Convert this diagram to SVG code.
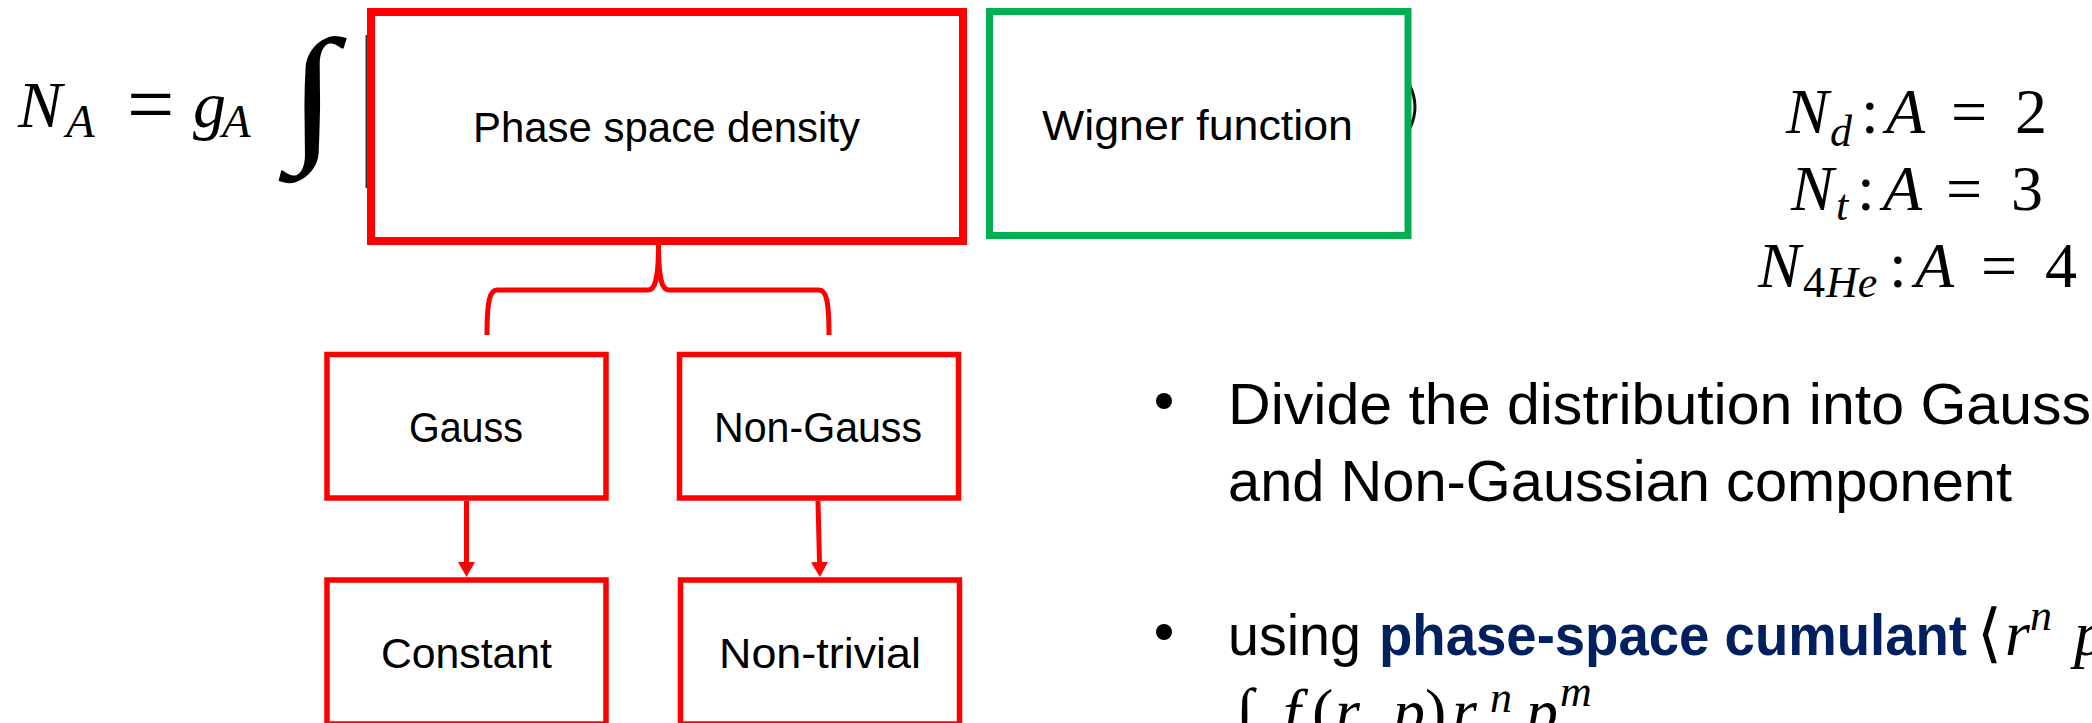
<svg xmlns="http://www.w3.org/2000/svg" width="2092" height="723" viewBox="0 0 2092 723">
<style>
  .lbl{font-family:'Liberation Sans',Arial,sans-serif;font-size:42px;fill:#000}
  .body{font-family:'Liberation Sans',Arial,sans-serif;font-size:57px;fill:#000}
  .bold{font-weight:bold;fill:#002060}
  .math{font-family:'Liberation Serif','Times New Roman','DejaVu Serif',serif;font-size:64px;fill:#000}
  .it{font-style:italic}
  .sub{font-size:44px}
  .sup{font-size:44px}
  .lsub{font-size:47px}
  .redbox{fill:#fff;stroke:#FF0000;stroke-width:5.5}
  .conn{fill:none;stroke:#FF0000;stroke-width:5}
</style>
<defs>
  <marker id="ah" viewBox="0 0 15 17" refX="0" refY="8.5" markerWidth="15" markerHeight="17" markerUnits="userSpaceOnUse" orient="auto">
    <path d="M0,0 L15,8.5 L0,17 Z" fill="#FF0000"/>
  </marker>
</defs>
<rect x="0" y="0" width="2092" height="723" fill="#fff"/>

<g id="formula-left">
  <text class="math it" x="18" y="127" style="font-size:66px">N</text>
  <text class="math it lsub" x="66" y="137">A</text>
  <text class="math" x="127" y="133" style="font-size:84px">=</text>
  <text class="math it" x="193" y="127" style="font-size:66px">g</text>
  <text class="math it lsub" x="222" y="137">A</text>
  <text class="math" transform="translate(288,143) scale(1.2,1)" style="font-size:150px">∫</text>
  <line x1="366.5" y1="35" x2="366.5" y2="188" stroke="#333" stroke-width="2"/>
  <path d="M1410,86 Q1420,107 1410,128" fill="none" stroke="#111" stroke-width="3"/>
</g>

<g id="node-phase">
  <rect x="371" y="12" width="592" height="229" fill="#fff" stroke="#FF0000" stroke-width="8"/>
  <text class="lbl" x="473" y="142" textLength="387" lengthAdjust="spacingAndGlyphs">Phase space density</text>
</g>

<g id="node-wigner">
  <rect x="989.5" y="11.5" width="418.5" height="224" fill="#fff" stroke="#00B050" stroke-width="7"/>
  <text class="lbl" x="1042" y="140" textLength="311" lengthAdjust="spacingAndGlyphs">Wigner function</text>
</g>

<g id="node-gauss">
  <rect class="redbox" x="327" y="354.5" width="279" height="143.5"/>
  <text class="lbl" x="409" y="442" textLength="114" lengthAdjust="spacingAndGlyphs">Gauss</text>
</g>

<g id="node-nongauss">
  <rect class="redbox" x="679.5" y="354.5" width="279" height="143.5"/>
  <text class="lbl" x="714" y="442" textLength="208" lengthAdjust="spacingAndGlyphs">Non-Gauss</text>
</g>

<g id="node-constant">
  <rect class="redbox" x="327" y="580" width="279" height="144"/>
  <text class="lbl" x="381" y="668" textLength="171" lengthAdjust="spacingAndGlyphs">Constant</text>
</g>

<g id="node-nontrivial">
  <rect class="redbox" x="680.5" y="580" width="279" height="144"/>
  <text class="lbl" x="719" y="668" textLength="202" lengthAdjust="spacingAndGlyphs">Non-trivial</text>
</g>

<g id="connectors">
  <path class="conn" d="M658.5,245 C658.5,280 655,290 648,290 L497,290 C490,290 487,300 487,335"/>
  <path class="conn" d="M658.5,245 C658.5,280 662,290 669,290 L819,290 C826,290 829,300 829,335"/>
  <line class="conn" x1="466.5" y1="501" x2="466.5" y2="562" marker-end="url(#ah)"/>
  <line class="conn" x1="818" y1="501" x2="819.5" y2="562" marker-end="url(#ah)"/>
</g>

<g id="formula-right">
  <text class="math it" x="1786" y="133">N</text>
  <text class="math it sub" x="1830" y="146">d</text>
  <text class="math" x="1861" y="133">:</text>
  <text class="math it" x="1886" y="133">A</text>
  <text class="math" x="1951" y="133">=</text>
  <text class="math" x="2015" y="133">2</text>

  <text class="math it" x="1791" y="210">N</text>
  <text class="math it sub" x="1836" y="220">t</text>
  <text class="math" x="1857" y="210">:</text>
  <text class="math it" x="1883" y="210">A</text>
  <text class="math" x="1946" y="210">=</text>
  <text class="math" x="2011" y="210">3</text>

  <text class="math it" x="1758" y="287">N</text>
  <text class="math sub" x="1803" y="297">4</text>
  <text class="math it sub" x="1826" y="297">He</text>
  <text class="math" x="1889" y="287">:</text>
  <text class="math it" x="1915" y="287">A</text>
  <text class="math" x="1981" y="287">=</text>
  <text class="math" x="2045" y="287">4</text>
</g>

<g id="bullets">
  <circle cx="1164" cy="401" r="8" fill="#000"/>
  <text class="body" x="1228" y="424" textLength="863" lengthAdjust="spacingAndGlyphs">Divide the distribution into Gauss</text>
  <text class="body" x="1228" y="501" textLength="784" lengthAdjust="spacingAndGlyphs">and Non-Gaussian component</text>

  <circle cx="1164" cy="632" r="8" fill="#000"/>
  <text class="body" x="1228" y="655" textLength="133" lengthAdjust="spacingAndGlyphs">using</text>
  <text class="body bold" x="1379" y="655" textLength="588" lengthAdjust="spacingAndGlyphs">phase-space cumulant</text>
  <text class="math" x="1977" y="655" style="font-family:'DejaVu Serif',serif">⟨</text>
  <text class="math it" x="2005" y="655">r</text>
  <text class="math it sup" x="2030" y="630">n</text>
  <text class="math it" x="2074" y="655">p</text>

  <text class="math" x="1236" y="733">∫</text>
  <text class="math it" x="1283" y="733">f</text>
  <text class="math" x="1312" y="733">(</text>
  <text class="math it" x="1335" y="733">r</text>
  <text class="math" x="1365" y="733">,</text>
  <text class="math it" x="1393" y="733">p</text>
  <text class="math" x="1425" y="733">)</text>
  <text class="math it" x="1452" y="733">r</text>
  <text class="math it sup" x="1490" y="712">n</text>
  <text class="math it" x="1526" y="733">p</text>
  <text class="math it sup" x="1560" y="706">m</text>
</g>
</svg>
